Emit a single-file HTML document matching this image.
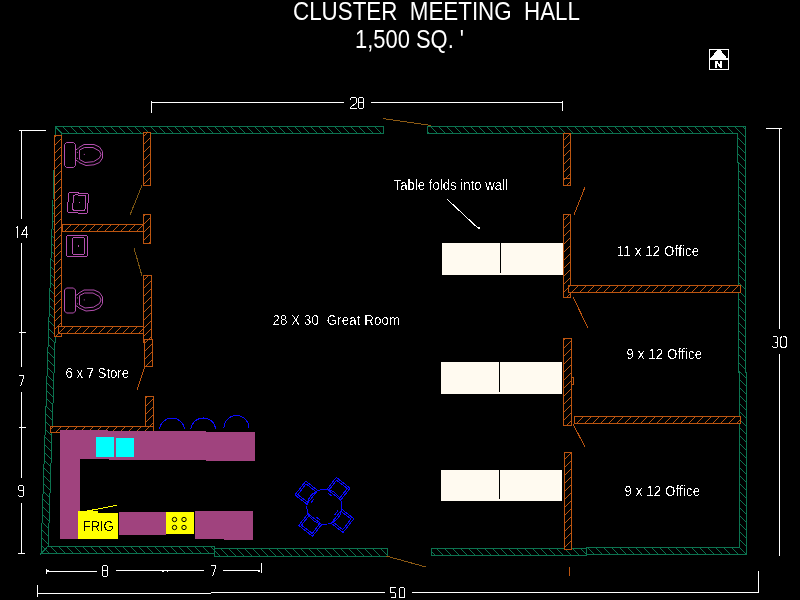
<!DOCTYPE html><html><head><meta charset="utf-8"><style>html,body{margin:0;padding:0;background:#000;width:800px;height:600px;overflow:hidden}svg{display:block;will-change:transform}</style></head><body>
<svg width="800" height="600" viewBox="0 0 800 600">
<defs><filter id="thr" x="-5%" y="-20%" width="110%" height="140%"><feComponentTransfer><feFuncA type="discrete" tableValues="0 0 0 1 1"/></feComponentTransfer></filter></defs>
<rect width="800" height="600" fill="#000"/>
<g shape-rendering="crispEdges">
<text xml:space="preserve" x="293" y="19.8" font-family="Liberation Sans" font-size="25.6" font-weight="normal" fill="#ffffff" textLength="287" lengthAdjust="spacingAndGlyphs">CLUSTER  MEETING  HALL</text>
<text xml:space="preserve" x="355" y="47.7" font-family="Liberation Sans" font-size="25.6" font-weight="normal" fill="#ffffff" textLength="109" lengthAdjust="spacingAndGlyphs">1,500 SQ. '</text>
<rect x="709.5" y="49.5" width="19" height="20" fill="none" stroke="#fff" stroke-width="1.2"/>
<polygon points="710,59.5 717,50 720.5,50 728,59.5" fill="#fff"/>
<rect x="709.5" y="58" width="19" height="1.8" fill="#fff"/>
<path d="M715 61H717.2L720 65V61H722.2V68H720L717.2 64V68H715Z" fill="#fff"/>
<polygon points="55.50,126.50 383.50,126.50 383.50,133.50 62.00,133.50" fill="none" stroke="#0c7350" stroke-width="1"/>
<path d="M62.50 126.50L69.50 133.50M70.50 126.50L77.50 133.50M78.50 126.50L85.50 133.50M86.50 126.50L93.50 133.50M94.50 126.50L101.50 133.50M102.50 126.50L109.50 133.50M110.50 126.50L117.50 133.50M118.50 126.50L125.50 133.50M126.50 126.50L133.50 133.50M134.50 126.50L141.50 133.50M142.50 126.50L149.50 133.50M150.50 126.50L157.50 133.50M158.50 126.50L165.50 133.50M166.50 126.50L173.50 133.50M174.50 126.50L181.50 133.50M182.50 126.50L189.50 133.50M190.50 126.50L197.50 133.50M198.50 126.50L205.50 133.50M206.50 126.50L213.50 133.50M214.50 126.50L221.50 133.50M222.50 126.50L229.50 133.50M230.50 126.50L237.50 133.50M238.50 126.50L245.50 133.50M246.50 126.50L253.50 133.50M254.50 126.50L261.50 133.50M262.50 126.50L269.50 133.50M270.50 126.50L277.50 133.50M278.50 126.50L285.50 133.50M286.50 126.50L293.50 133.50M294.50 126.50L301.50 133.50M302.50 126.50L309.50 133.50M310.50 126.50L317.50 133.50M318.50 126.50L325.50 133.50M326.50 126.50L333.50 133.50M334.50 126.50L341.50 133.50M342.50 126.50L349.50 133.50M350.50 126.50L357.50 133.50M358.50 126.50L365.50 133.50M366.50 126.50L373.50 133.50M374.50 126.50L381.50 133.50M382.50 126.50L383.50 127.50" stroke="#0c7350" stroke-width="1" fill="none"/>
<path d="M427.50 131.50L429.50 133.50M430.50 126.50L437.50 133.50M438.50 126.50L445.50 133.50M446.50 126.50L453.50 133.50M454.50 126.50L461.50 133.50M462.50 126.50L469.50 133.50M470.50 126.50L477.50 133.50M478.50 126.50L485.50 133.50M486.50 126.50L493.50 133.50M494.50 126.50L501.50 133.50M502.50 126.50L509.50 133.50M510.50 126.50L517.50 133.50M518.50 126.50L525.50 133.50M526.50 126.50L533.50 133.50M534.50 126.50L541.50 133.50M542.50 126.50L549.50 133.50M550.50 126.50L557.50 133.50M558.50 126.50L565.50 133.50M566.50 126.50L573.50 133.50M574.50 126.50L581.50 133.50M582.50 126.50L589.50 133.50M590.50 126.50L597.50 133.50M598.50 126.50L605.50 133.50M606.50 126.50L613.50 133.50M614.50 126.50L621.50 133.50M622.50 126.50L629.50 133.50M630.50 126.50L637.50 133.50M638.50 126.50L645.50 133.50M646.50 126.50L653.50 133.50M654.50 126.50L661.50 133.50M662.50 126.50L669.50 133.50M670.50 126.50L677.50 133.50M678.50 126.50L685.50 133.50M686.50 126.50L693.50 133.50M694.50 126.50L701.50 133.50M702.50 126.50L709.50 133.50M710.50 126.50L717.50 133.50M718.50 126.50L725.50 133.50M726.50 126.50L733.50 133.50M734.50 126.50L741.50 133.50M742.50 126.50L745.50 129.50" stroke="#0c7350" stroke-width="1" fill="none"/>
<path d="M737.50 161.50L738.50 162.50M737.50 153.50L745.50 161.50M737.50 145.50L745.50 153.50M737.50 137.50L745.50 145.50M741.50 133.50L745.50 137.50" stroke="#0c7350" stroke-width="1" fill="none"/>
<path d="M738.50 370.50L740.00 372.00M738.50 362.50L745.50 369.50M738.50 354.50L745.50 361.50M738.50 346.50L745.50 353.50M738.50 338.50L745.50 345.50M738.50 330.50L745.50 337.50M738.50 322.50L745.50 329.50M738.50 314.50L745.50 321.50M738.50 306.50L745.50 313.50M738.50 298.50L745.50 305.50M738.50 290.50L745.50 297.50M738.50 282.50L745.50 289.50M738.50 274.50L745.50 281.50M738.50 266.50L745.50 273.50M738.50 258.50L745.50 265.50M738.50 250.50L745.50 257.50M738.50 242.50L745.50 249.50M738.50 234.50L745.50 241.50M738.50 226.50L745.50 233.50M738.50 218.50L745.50 225.50M738.50 210.50L745.50 217.50M738.50 202.50L745.50 209.50M738.50 194.50L745.50 201.50M738.50 186.50L745.50 193.50M738.50 178.50L745.50 185.50M738.50 170.50L745.50 177.50M738.50 162.50L745.50 169.50" stroke="#0c7350" stroke-width="1" fill="none"/>
<path d="M739.00 539.00L746.50 546.50M739.00 531.00L746.50 538.50M739.00 523.00L746.50 530.50M739.00 515.00L746.50 522.50M739.00 507.00L746.50 514.50M739.00 499.00L746.50 506.50M739.00 491.00L746.50 498.50M739.00 483.00L746.50 490.50M739.00 475.00L746.50 482.50M739.00 467.00L746.50 474.50M739.00 459.00L746.50 466.50M739.00 451.00L746.50 458.50M739.00 443.00L746.50 450.50M739.00 435.00L746.50 442.50M739.00 427.00L746.50 434.50M739.00 419.00L746.50 426.50M739.00 411.00L746.50 418.50M739.00 403.00L746.50 410.50M739.00 395.00L746.50 402.50M739.00 387.00L746.50 394.50M739.00 379.00L746.50 386.50M740.00 372.00L746.50 378.50" stroke="#0c7350" stroke-width="1" fill="none"/>
<path d="M587.50 547.50L594.00 554.00M595.50 547.50L602.00 554.00M603.50 547.50L610.00 554.00M611.50 547.50L618.00 554.00M619.50 547.50L626.00 554.00M627.50 547.50L634.00 554.00M635.50 547.50L642.00 554.00M643.50 547.50L650.00 554.00M651.50 547.50L658.00 554.00M659.50 547.50L666.00 554.00M667.50 547.50L674.00 554.00M675.50 547.50L682.00 554.00M683.50 547.50L690.00 554.00M691.50 547.50L698.00 554.00M699.50 547.50L706.00 554.00M707.50 547.50L714.00 554.00M715.50 547.50L722.00 554.00M723.50 547.50L730.00 554.00M731.50 547.50L738.00 554.00M739.50 547.50L746.00 554.00" stroke="#0c7350" stroke-width="1" fill="none"/>
<path d="M427.5 133.5V126.5H745.5V372.5H746.5V554H586.5V547.5H739V372.5H738.5V162.5H737.5V133.5H427.5Z" fill="none" stroke="#0c7350" stroke-width="1"/>
<polygon points="55.50,126.50 62.00,133.50 48.25,546.00 41.00,553.50" fill="none" stroke="#0c7350" stroke-width="1"/>
<path d="M41.28 545.28L45.18 549.18M41.54 537.54L48.31 544.31M41.80 529.80L48.57 536.57M42.07 522.07L48.83 528.83M42.33 514.33L49.08 521.08M42.59 506.59L49.34 513.34M42.86 498.86L49.60 505.60M43.12 491.12L49.86 497.86M43.38 483.38L50.12 490.12M43.64 475.64L50.37 482.37M43.91 467.91L50.63 474.63M44.17 460.17L50.89 466.89M44.43 452.43L51.15 459.15M44.69 444.69L51.41 451.41M44.96 436.96L51.66 443.66M45.22 429.22L51.92 435.92M45.48 421.48L52.18 428.18M45.75 413.75L52.44 420.44M46.01 406.01L52.70 412.70M46.27 398.27L52.95 404.95M46.53 390.53L53.21 397.21M46.80 382.80L53.47 389.47M47.06 375.06L53.73 381.73M47.32 367.32L53.99 373.99M47.58 359.58L54.24 366.24M47.85 351.85L54.50 358.50M48.11 344.11L54.76 350.76M48.37 336.37L55.02 343.02M48.64 328.64L55.28 335.28M48.90 320.90L55.53 327.53M49.16 313.16L55.79 319.79M49.42 305.42L56.05 312.05M49.69 297.69L56.31 304.31M49.95 289.95L56.57 296.57M50.21 282.21L56.82 288.82M50.48 274.48L57.08 281.08M50.74 266.74L57.34 273.34M51.00 259.00L57.60 265.60M51.26 251.26L57.86 257.86M51.53 243.53L58.11 250.11M51.79 235.79L58.37 242.37M52.05 228.05L58.63 234.63M52.31 220.31L58.89 226.89M52.58 212.58L59.15 219.15M52.84 204.84L59.40 211.40M53.10 197.10L59.66 203.66M53.37 189.37L59.92 195.92M53.63 181.63L60.18 188.18M53.89 173.89L60.44 180.44M54.15 166.15L60.69 172.69M54.42 158.42L60.95 164.95M54.68 150.68L61.21 157.21M54.94 142.94L61.47 149.47M55.20 135.20L61.73 141.73M55.47 127.47L61.98 133.98" stroke="#0c7350" stroke-width="1" fill="none"/>
<polygon points="41.00,553.50 48.25,546.00 214.50,546.00 214.50,553.50" fill="none" stroke="#0c7350" stroke-width="1"/>
<path d="M45.18 549.18L49.50 553.50M50.00 546.00L57.50 553.50M58.00 546.00L65.50 553.50M66.00 546.00L73.50 553.50M74.00 546.00L81.50 553.50M82.00 546.00L89.50 553.50M90.00 546.00L97.50 553.50M98.00 546.00L105.50 553.50M106.00 546.00L113.50 553.50M114.00 546.00L121.50 553.50M122.00 546.00L129.50 553.50M130.00 546.00L137.50 553.50M138.00 546.00L145.50 553.50M146.00 546.00L153.50 553.50M154.00 546.00L161.50 553.50M162.00 546.00L169.50 553.50M170.00 546.00L177.50 553.50M178.00 546.00L185.50 553.50M186.00 546.00L193.50 553.50M194.00 546.00L201.50 553.50M202.00 546.00L209.50 553.50M210.00 546.00L214.50 550.50" stroke="#0c7350" stroke-width="1" fill="none"/>
<polygon points="214.50,548.50 387.50,548.50 387.50,556.50 214.50,556.50" fill="none" stroke="#0c7350" stroke-width="1"/>
<path d="M214.50 550.50L220.50 556.50M220.50 548.50L228.50 556.50M228.50 548.50L236.50 556.50M236.50 548.50L244.50 556.50M244.50 548.50L252.50 556.50M252.50 548.50L260.50 556.50M260.50 548.50L268.50 556.50M268.50 548.50L276.50 556.50M276.50 548.50L284.50 556.50M284.50 548.50L292.50 556.50M292.50 548.50L300.50 556.50M300.50 548.50L308.50 556.50M308.50 548.50L316.50 556.50M316.50 548.50L324.50 556.50M324.50 548.50L332.50 556.50M332.50 548.50L340.50 556.50M340.50 548.50L348.50 556.50M348.50 548.50L356.50 556.50M356.50 548.50L364.50 556.50M364.50 548.50L372.50 556.50M372.50 548.50L380.50 556.50M380.50 548.50L387.50 555.50" stroke="#0c7350" stroke-width="1" fill="none"/>
<polygon points="431.50,548.50 586.50,548.50 586.50,555.50 431.50,555.50" fill="none" stroke="#0c7350" stroke-width="1"/>
<path d="M431.50 551.50L435.50 555.50M436.50 548.50L443.50 555.50M444.50 548.50L451.50 555.50M452.50 548.50L459.50 555.50M460.50 548.50L467.50 555.50M468.50 548.50L475.50 555.50M476.50 548.50L483.50 555.50M484.50 548.50L491.50 555.50M492.50 548.50L499.50 555.50M500.50 548.50L507.50 555.50M508.50 548.50L515.50 555.50M516.50 548.50L523.50 555.50M524.50 548.50L531.50 555.50M532.50 548.50L539.50 555.50M540.50 548.50L547.50 555.50M548.50 548.50L555.50 555.50M556.50 548.50L563.50 555.50M564.50 548.50L571.50 555.50M572.50 548.50L579.50 555.50M580.50 548.50L586.50 554.50" stroke="#0c7350" stroke-width="1" fill="none"/>
<polygon points="54.50,135.50 61.50,135.50 61.50,336.00 54.50,336.00" fill="#000" stroke="#bc5510" stroke-width="1"/>
<path d="M56.50 135.50L54.50 137.50M61.50 138.50L54.50 145.50M61.50 146.50L54.50 153.50M61.50 154.50L54.50 161.50M61.50 162.50L54.50 169.50M61.50 170.50L54.50 177.50M61.50 178.50L54.50 185.50M61.50 186.50L54.50 193.50M61.50 194.50L54.50 201.50M61.50 202.50L54.50 209.50M61.50 210.50L54.50 217.50M61.50 218.50L54.50 225.50M61.50 226.50L54.50 233.50M61.50 234.50L54.50 241.50M61.50 242.50L54.50 249.50M61.50 250.50L54.50 257.50M61.50 258.50L54.50 265.50M61.50 266.50L54.50 273.50M61.50 274.50L54.50 281.50M61.50 282.50L54.50 289.50M61.50 290.50L54.50 297.50M61.50 298.50L54.50 305.50M61.50 306.50L54.50 313.50M61.50 314.50L54.50 321.50M61.50 322.50L54.50 329.50M61.50 330.50L56.00 336.00" stroke="#bc5510" stroke-width="1" fill="none"/>
<polygon points="143.50,132.50 150.50,132.50 150.50,185.50 143.50,185.50" fill="#000" stroke="#bc5510" stroke-width="1"/>
<path d="M147.50 132.50L143.50 136.50M150.50 137.50L143.50 144.50M150.50 145.50L143.50 152.50M150.50 153.50L143.50 160.50M150.50 161.50L143.50 168.50M150.50 169.50L143.50 176.50M150.50 177.50L143.50 184.50" stroke="#bc5510" stroke-width="1" fill="none"/>
<polygon points="143.50,214.50 150.50,214.50 150.50,243.50 143.50,243.50" fill="#000" stroke="#bc5510" stroke-width="1"/>
<path d="M145.50 214.50L143.50 216.50M150.50 217.50L143.50 224.50M150.50 225.50L143.50 232.50M150.50 233.50L143.50 240.50M150.50 241.50L148.50 243.50" stroke="#bc5510" stroke-width="1" fill="none"/>
<polygon points="62.00,224.50 143.50,224.50 143.50,231.50 62.00,231.50" fill="#000" stroke="#bc5510" stroke-width="1"/>
<path d="M63.50 224.50L62.00 226.00M71.50 224.50L64.50 231.50M79.50 224.50L72.50 231.50M87.50 224.50L80.50 231.50M95.50 224.50L88.50 231.50M103.50 224.50L96.50 231.50M111.50 224.50L104.50 231.50M119.50 224.50L112.50 231.50M127.50 224.50L120.50 231.50M135.50 224.50L128.50 231.50M143.50 224.50L136.50 231.50" stroke="#bc5510" stroke-width="1" fill="none"/>
<polygon points="143.50,275.50 151.00,275.50 151.00,342.00 143.50,342.00" fill="#000" stroke="#bc5510" stroke-width="1"/>
<path d="M148.50 275.50L143.50 280.50M151.00 281.00L143.50 288.50M151.00 289.00L143.50 296.50M151.00 297.00L143.50 304.50M151.00 305.00L143.50 312.50M151.00 313.00L143.50 320.50M151.00 321.00L143.50 328.50M151.00 329.00L143.50 336.50M151.00 337.00L146.00 342.00" stroke="#bc5510" stroke-width="1" fill="none"/>
<polygon points="58.00,326.50 143.50,326.50 143.50,333.50 58.00,333.50" fill="#000" stroke="#bc5510" stroke-width="1"/>
<path d="M65.50 326.50L58.50 333.50M73.50 326.50L66.50 333.50M81.50 326.50L74.50 333.50M89.50 326.50L82.50 333.50M97.50 326.50L90.50 333.50M105.50 326.50L98.50 333.50M113.50 326.50L106.50 333.50M121.50 326.50L114.50 333.50M129.50 326.50L122.50 333.50M137.50 326.50L130.50 333.50M143.50 328.50L138.50 333.50" stroke="#bc5510" stroke-width="1" fill="none"/>
<polygon points="144.50,339.50 152.50,339.50 152.50,366.50 144.50,366.50" fill="#000" stroke="#bc5510" stroke-width="1"/>
<path d="M148.50 339.50L144.50 343.50M152.50 343.50L144.50 351.50M152.50 351.50L144.50 359.50M152.50 359.50L145.50 366.50" stroke="#bc5510" stroke-width="1" fill="none"/>
<polygon points="145.50,396.50 153.50,396.50 153.50,430.00 145.50,430.00" fill="#000" stroke="#bc5510" stroke-width="1"/>
<path d="M147.50 396.50L145.50 398.50M153.50 398.50L145.50 406.50M153.50 406.50L145.50 414.50M153.50 414.50L145.50 422.50M153.50 422.50L146.00 430.00" stroke="#bc5510" stroke-width="1" fill="none"/>
<polygon points="50.50,426.50 153.50,426.50 153.50,432.00 50.50,432.00" fill="#000" stroke="#bc5510" stroke-width="1"/>
<path d="M53.50 426.50L50.50 429.50M61.50 426.50L56.00 432.00M69.50 426.50L64.00 432.00M77.50 426.50L72.00 432.00M85.50 426.50L80.00 432.00M93.50 426.50L88.00 432.00M101.50 426.50L96.00 432.00M109.50 426.50L104.00 432.00M117.50 426.50L112.00 432.00M125.50 426.50L120.00 432.00M133.50 426.50L128.00 432.00M141.50 426.50L136.00 432.00M149.50 426.50L144.00 432.00M153.50 430.50L152.00 432.00" stroke="#bc5510" stroke-width="1" fill="none"/>
<polygon points="563.50,133.50 570.50,133.50 570.50,178.50 563.50,178.50" fill="#000" stroke="#bc5510" stroke-width="1"/>
<path d="M570.50 133.50L563.50 140.50M570.50 141.50L563.50 148.50M570.50 149.50L563.50 156.50M570.50 157.50L563.50 164.50M570.50 165.50L563.50 172.50M570.50 173.50L565.50 178.50" stroke="#bc5510" stroke-width="1" fill="none"/>
<polygon points="563.50,178.50 570.50,178.50 570.50,185.50 563.50,185.50" fill="#000" stroke="#bc5510" stroke-width="1"/>
<path d="M565.50 178.50L563.50 180.50M570.50 181.50L566.50 185.50" stroke="#bc5510" stroke-width="1" fill="none"/>
<polygon points="563.50,214.50 570.50,214.50 570.50,297.50 563.50,297.50" fill="#000" stroke="#bc5510" stroke-width="1"/>
<path d="M569.50 214.50L563.50 220.50M570.50 221.50L563.50 228.50M570.50 229.50L563.50 236.50M570.50 237.50L563.50 244.50M570.50 245.50L563.50 252.50M570.50 253.50L563.50 260.50M570.50 261.50L563.50 268.50M570.50 269.50L563.50 276.50M570.50 277.50L563.50 284.50M570.50 285.50L563.50 292.50M570.50 293.50L566.50 297.50" stroke="#bc5510" stroke-width="1" fill="none"/>
<polygon points="568.50,285.50 740.00,285.50 740.00,292.50 568.50,292.50" fill="#000" stroke="#bc5510" stroke-width="1"/>
<path d="M570.50 285.50L568.50 287.50M578.50 285.50L571.50 292.50M586.50 285.50L579.50 292.50M594.50 285.50L587.50 292.50M602.50 285.50L595.50 292.50M610.50 285.50L603.50 292.50M618.50 285.50L611.50 292.50M626.50 285.50L619.50 292.50M634.50 285.50L627.50 292.50M642.50 285.50L635.50 292.50M650.50 285.50L643.50 292.50M658.50 285.50L651.50 292.50M666.50 285.50L659.50 292.50M674.50 285.50L667.50 292.50M682.50 285.50L675.50 292.50M690.50 285.50L683.50 292.50M698.50 285.50L691.50 292.50M706.50 285.50L699.50 292.50M714.50 285.50L707.50 292.50M722.50 285.50L715.50 292.50M730.50 285.50L723.50 292.50M738.50 285.50L731.50 292.50" stroke="#bc5510" stroke-width="1" fill="none"/>
<polygon points="574.50,416.50 740.00,416.50 740.00,423.50 574.50,423.50" fill="#000" stroke="#bc5510" stroke-width="1"/>
<path d="M575.50 416.50L574.50 417.50M583.50 416.50L576.50 423.50M591.50 416.50L584.50 423.50M599.50 416.50L592.50 423.50M607.50 416.50L600.50 423.50M615.50 416.50L608.50 423.50M623.50 416.50L616.50 423.50M631.50 416.50L624.50 423.50M639.50 416.50L632.50 423.50M647.50 416.50L640.50 423.50M655.50 416.50L648.50 423.50M663.50 416.50L656.50 423.50M671.50 416.50L664.50 423.50M679.50 416.50L672.50 423.50M687.50 416.50L680.50 423.50M695.50 416.50L688.50 423.50M703.50 416.50L696.50 423.50M711.50 416.50L704.50 423.50M719.50 416.50L712.50 423.50M727.50 416.50L720.50 423.50M735.50 416.50L728.50 423.50M740.00 420.00L736.50 423.50" stroke="#bc5510" stroke-width="1" fill="none"/>
<polygon points="564.50,452.50 571.50,452.50 571.50,549.50 564.50,549.50" fill="#000" stroke="#bc5510" stroke-width="1"/>
<path d="M571.50 452.50L564.50 459.50M571.50 460.50L564.50 467.50M571.50 468.50L564.50 475.50M571.50 476.50L564.50 483.50M571.50 484.50L564.50 491.50M571.50 492.50L564.50 499.50M571.50 500.50L564.50 507.50M571.50 508.50L564.50 515.50M571.50 516.50L564.50 523.50M571.50 524.50L564.50 531.50M571.50 532.50L564.50 539.50M571.50 540.50L564.50 547.50M571.50 548.50L570.50 549.50" stroke="#bc5510" stroke-width="1" fill="none"/>
<polygon points="563.50,338.50 571.00,338.50 571.00,425.50 563.50,425.50" fill="#000" stroke="#bc5510" stroke-width="1"/>
<path d="M565.50 338.50L563.50 340.50M571.00 341.00L563.50 348.50M571.00 349.00L563.50 356.50M571.00 357.00L563.50 364.50M571.00 365.00L563.50 372.50M571.00 373.00L563.50 380.50M571.00 381.00L563.50 388.50M571.00 389.00L563.50 396.50M571.00 397.00L563.50 404.50M571.00 405.00L563.50 412.50M571.00 413.00L563.50 420.50M571.00 421.00L566.50 425.50" stroke="#bc5510" stroke-width="1" fill="none"/>
<polyline points="571,358.5 571.5,358.5 571.5,377.5 573.5,377.5 573.5,384.5 571.5,384.5 571.5,425.5" fill="none" stroke="#bc5510"/>
<line x1="383" y1="118.5" x2="431" y2="125.5" stroke="#8c5a14" stroke-width="1"/>
<line x1="386" y1="556" x2="426" y2="567" stroke="#8c5a14" stroke-width="1"/>
<line x1="142" y1="185.5" x2="130" y2="215" stroke="#7a5512" stroke-width="1"/>
<line x1="134" y1="248" x2="142" y2="276" stroke="#7a5512" stroke-width="1"/>
<line x1="145" y1="366" x2="137" y2="390" stroke="#bc5510" stroke-width="1"/>
<line x1="585" y1="187" x2="574" y2="215" stroke="#bc5510" stroke-width="1"/>
<line x1="573" y1="297" x2="588" y2="328" stroke="#bc5510" stroke-width="1"/>
<line x1="573" y1="424" x2="585" y2="447" stroke="#bc5510" stroke-width="1"/>
<line x1="569.5" y1="567" x2="569.5" y2="576" stroke="#bc5510" stroke-width="1"/>
<g transform="translate(0,0)" fill="none" stroke="#b44fae" stroke-width="1" shape-rendering="auto"><path d="M66.5 142.5H73.5L75.5 144.5V165.5L73.5 167.5H66.5L64.5 165.5V144.5Z"/><path d="M75.5 149.5H77L79 147.5L84 144.5H94L99.5 147L102.5 151.5V158L99.5 162.5L94 164.8L86 165.5L79 162.5L77 160.5H75.5"/><path d="M79.5 159.5V150L84.5 147.5H93L99.5 151L101 154.5L99.5 158L93.5 161.7L85 162.5Z"/><rect x="76.9" y="151.9" width="1" height="1" fill="#b44fae" stroke="none"/><rect x="76.9" y="157.9" width="1" height="1" fill="#b44fae" stroke="none"/><rect x="83.8" y="153.9" width="1" height="1" fill="#b44fae" stroke="none"/></g>
<g transform="translate(0,145.5)" fill="none" stroke="#b44fae" stroke-width="1" shape-rendering="auto"><path d="M66.5 142.5H73.5L75.5 144.5V165.5L73.5 167.5H66.5L64.5 165.5V144.5Z"/><path d="M75.5 149.5H77L79 147.5L84 144.5H94L99.5 147L102.5 151.5V158L99.5 162.5L94 164.8L86 165.5L79 162.5L77 160.5H75.5"/><path d="M79.5 159.5V150L84.5 147.5H93L99.5 151L101 154.5L99.5 158L93.5 161.7L85 162.5Z"/><rect x="76.9" y="151.9" width="1" height="1" fill="#b44fae" stroke="none"/><rect x="76.9" y="157.9" width="1" height="1" fill="#b44fae" stroke="none"/><rect x="83.8" y="153.9" width="1" height="1" fill="#b44fae" stroke="none"/></g>
<g transform="rotate(4 78 203)">
<rect x="68" y="193" width="20" height="20" rx="2" fill="none" stroke="#b44fae" stroke-width="1"/>
<rect x="73" y="195" width="12.5" height="15.5" rx="2" fill="none" stroke="#b44fae" stroke-width="1"/>
<circle cx="79.25" cy="202.75" r="0.6" fill="#b44fae"/>
</g>
<rect x="66.5" y="235.5" width="21.0" height="21.0" rx="2" fill="none" stroke="#b44fae" stroke-width="1"/>
<rect x="72.5" y="237.5" width="12.0" height="17.0" rx="2" fill="none" stroke="#b44fae" stroke-width="1"/>
<circle cx="78.5" cy="246.0" r="0.6" fill="#b44fae"/>
<rect x="442" y="243" width="121" height="31.5" fill="#fffaf0"/>
<line x1="500.5" y1="243" x2="500.5" y2="272.5" stroke="#000" stroke-width="1"/>
<rect x="441" y="362" width="121" height="32" fill="#fffaf0"/>
<line x1="499.5" y1="362" x2="499.5" y2="392" stroke="#000" stroke-width="1"/>
<rect x="441" y="470" width="121" height="31" fill="#fffaf0"/>
<line x1="499.5" y1="470" x2="499.5" y2="499" stroke="#000" stroke-width="1"/>
<text filter="url(#thr)" xml:space="preserve" transform="scale(0.88,1)" x="447.27" y="189.6" font-family="Liberation Sans" font-size="15" fill="#ffffff" textLength="130.00" lengthAdjust="spacing">Table folds into wall</text>
<line x1="447.5" y1="199.5" x2="479.5" y2="229.5" stroke="#ffffff" stroke-width="1"/>
<rect x="477.5" y="227" width="2" height="2" fill="#fff"/>
<text filter="url(#thr)" xml:space="preserve" transform="scale(0.88,1)" x="700.91" y="255.7" font-family="Liberation Sans" font-size="15" fill="#ffffff" textLength="93.64" lengthAdjust="spacing">11 x 12 Office</text>
<text filter="url(#thr)" xml:space="preserve" transform="scale(0.88,1)" x="309.55" y="325" font-family="Liberation Sans" font-size="15" fill="#ffffff" textLength="145.00" lengthAdjust="spacing">28 X 30  Great Room</text>
<text filter="url(#thr)" xml:space="preserve" transform="scale(0.88,1)" x="74.55" y="378" font-family="Liberation Sans" font-size="15" fill="#ffffff" textLength="72.05" lengthAdjust="spacing">6 x 7 Store</text>
<text filter="url(#thr)" xml:space="preserve" transform="scale(0.88,1)" x="711.82" y="358.8" font-family="Liberation Sans" font-size="15" fill="#ffffff" textLength="85.91" lengthAdjust="spacing">9 x 12 Office</text>
<text filter="url(#thr)" xml:space="preserve" transform="scale(0.88,1)" x="709.66" y="496" font-family="Liberation Sans" font-size="15" fill="#ffffff" textLength="85.80" lengthAdjust="spacing">9 x 12 Office</text>
<path d="M60 430.2H108V431H206V432H255V461H206V459.8H109V459H79.8V539.3H60Z" fill="#a0437e"/>
<rect x="118.8" y="512" width="46.7" height="22.6" fill="#a0437e"/>
<path d="M195 511H253V539.8H224V538.5H195Z" fill="#a0437e"/>
<rect x="96" y="437" width="17.8" height="19.7" fill="#00ffff"/>
<rect x="116" y="437.5" width="17.9" height="19.5" fill="#00ffff"/>
<path d="M78.3 511.3H98V513H117.9V539.4H78.3Z" fill="#ffff00"/>
<line x1="86.9" y1="511.1" x2="116.9" y2="505.3" stroke="#ffff00" stroke-width="1"/>
<text filter="url(#thr)" xml:space="preserve" transform="scale(0.88,1)" x="93.75" y="531" font-family="Liberation Sans" font-size="15" fill="#000" textLength="35.57" lengthAdjust="spacing">FRIG</text>
<rect x="166" y="511.8" width="28.4" height="22" fill="#ffff00"/>
<circle cx="174.5" cy="519.5" r="2.2" fill="none" stroke="#000" stroke-width="1" shape-rendering="auto"/>
<circle cx="184" cy="519.5" r="2.2" fill="none" stroke="#000" stroke-width="1" shape-rendering="auto"/>
<circle cx="174.5" cy="527.5" r="2.2" fill="none" stroke="#000" stroke-width="1" shape-rendering="auto"/>
<circle cx="184" cy="527.5" r="2.2" fill="none" stroke="#000" stroke-width="1" shape-rendering="auto"/>
<path d="M159.5 429A12.6 12.6 0 0 1 184.5 429" fill="none" stroke="#0a0aff" stroke-width="1"/>
<path d="M190.8 429A12.6 12.6 0 0 1 215.8 429" fill="none" stroke="#0a0aff" stroke-width="1"/>
<path d="M223.9 428A12.4 12.4 0 0 1 248.9 428" fill="none" stroke="#0a0aff" stroke-width="1"/>
<g transform="translate(324.4,506.8) rotate(-52)"><rect x="15.5" y="-8.75" width="15" height="17.5" fill="none" stroke="#0a0aff" stroke-width="1"/><polyline points="15.5,-6.75 28.5,-6.75 28.5,6.75 15.5,6.75" fill="none" stroke="#0a0aff" stroke-width="1"/><line x1="13" y1="-5.2" x2="13" y2="0" stroke="#0a0aff" stroke-width="1"/></g>
<g transform="translate(324.4,506.8) rotate(38)"><rect x="15.5" y="-8.75" width="15" height="17.5" fill="none" stroke="#0a0aff" stroke-width="1"/><polyline points="15.5,-6.75 28.5,-6.75 28.5,6.75 15.5,6.75" fill="none" stroke="#0a0aff" stroke-width="1"/><line x1="13" y1="-5.2" x2="13" y2="0" stroke="#0a0aff" stroke-width="1"/></g>
<g transform="translate(324.4,506.8) rotate(128)"><rect x="15.5" y="-8.75" width="15" height="17.5" fill="none" stroke="#0a0aff" stroke-width="1"/><polyline points="15.5,-6.75 28.5,-6.75 28.5,6.75 15.5,6.75" fill="none" stroke="#0a0aff" stroke-width="1"/><line x1="13" y1="-5.2" x2="13" y2="0" stroke="#0a0aff" stroke-width="1"/></g>
<g transform="translate(324.4,506.8) rotate(218)"><rect x="15.5" y="-8.75" width="15" height="17.5" fill="none" stroke="#0a0aff" stroke-width="1"/><polyline points="15.5,-6.75 28.5,-6.75 28.5,6.75 15.5,6.75" fill="none" stroke="#0a0aff" stroke-width="1"/><line x1="13" y1="-5.2" x2="13" y2="0" stroke="#0a0aff" stroke-width="1"/></g>
<circle cx="324.4" cy="506.8" r="17.5" fill="none" stroke="#0a0aff" stroke-width="1"/>
<line x1="152" y1="102.5" x2="344" y2="102.5" stroke="#ffffff" stroke-width="1"/>
<line x1="371" y1="102.5" x2="563" y2="102.5" stroke="#ffffff" stroke-width="1"/>
<line x1="151.5" y1="101" x2="151.5" y2="113" stroke="#ffffff" stroke-width="1"/>
<line x1="562.5" y1="101" x2="562.5" y2="111" stroke="#ffffff" stroke-width="1"/>
<path d="M350.5 99.5L350.5 98.5L351.5 97.5L355.5 97.5L356.5 98.5L356.5 102.5L350.5 107.5L350.5 108.5L356.5 108.5M359.5 97.5L362.5 97.5L363.5 98.5L363.5 102.5L362.5 102.5L359.5 102.5L358.5 102.5L358.5 98.5L359.5 97.5M359.5 102.5L358.5 103.5L358.5 107.5L359.5 108.5L362.5 108.5L363.5 107.5L363.5 103.5L362.5 102.5" stroke="#ffffff" stroke-width="1" fill="none"/>
<line x1="21.5" y1="130.5" x2="21.5" y2="219" stroke="#ffffff" stroke-width="1"/>
<line x1="21.5" y1="243" x2="21.5" y2="367" stroke="#ffffff" stroke-width="1"/>
<line x1="21.5" y1="392" x2="21.5" y2="478" stroke="#ffffff" stroke-width="1"/>
<line x1="21.5" y1="503" x2="21.5" y2="554" stroke="#ffffff" stroke-width="1"/>
<line x1="19" y1="130.5" x2="46" y2="130.5" stroke="#ffffff" stroke-width="1"/>
<line x1="19" y1="332.5" x2="26" y2="332.5" stroke="#ffffff" stroke-width="1"/>
<line x1="19" y1="427.5" x2="26" y2="427.5" stroke="#ffffff" stroke-width="1"/>
<line x1="18" y1="553.5" x2="25" y2="553.5" stroke="#ffffff" stroke-width="1"/>
<path d="M15.5 228.5L17.5 226.5L17.5 237.5M26.5 237.5L26.5 226.5L21.5 234.5L27.5 234.5" stroke="#ffffff" stroke-width="1" fill="none"/>
<path d="M18.5 375.5L23.5 375.5L23.5 377.5L20.5 386.5" stroke="#ffffff" stroke-width="1" fill="none"/>
<path d="M23.5 490.5L19.5 490.5L18.5 489.5L18.5 486.5L19.5 485.5L22.5 485.5L23.5 486.5L23.5 495.5L22.5 496.5L19.5 496.5L18.5 495.5" stroke="#ffffff" stroke-width="1" fill="none"/>
<line x1="779.5" y1="128.5" x2="779.5" y2="329" stroke="#ffffff" stroke-width="1"/>
<line x1="779.5" y1="354" x2="779.5" y2="556" stroke="#ffffff" stroke-width="1"/>
<line x1="766" y1="128.5" x2="782" y2="128.5" stroke="#ffffff" stroke-width="1"/>
<path d="M772.5 337.5L773.5 336.5L776.5 336.5L777.5 337.5L777.5 341.5L776.5 342.5L774.5 342.5M776.5 342.5L777.5 342.5L777.5 346.5L776.5 347.5L773.5 347.5L772.5 346.5M782.5 336.5L784.5 336.5L786.5 337.5L786.5 346.5L784.5 347.5L782.5 347.5L780.5 346.5L780.5 337.5L782.5 336.5" stroke="#ffffff" stroke-width="1" fill="none"/>
<line x1="46" y1="571.5" x2="97" y2="571.5" stroke="#ffffff" stroke-width="1"/>
<line x1="116" y1="570.5" x2="204" y2="570.5" stroke="#ffffff" stroke-width="1"/>
<line x1="223" y1="570.5" x2="260" y2="570.5" stroke="#ffffff" stroke-width="1"/>
<line x1="46.5" y1="569" x2="46.5" y2="574" stroke="#ffffff" stroke-width="1"/>
<line x1="261.5" y1="563" x2="261.5" y2="573" stroke="#ffffff" stroke-width="1"/>
<rect x="47" y="570" width="2" height="1" fill="#fff"/><rect x="258" y="569.5" width="2" height="2" fill="#fff"/><rect x="162" y="571" width="2" height="1" fill="#fff"/><rect x="167" y="571" width="1" height="1" fill="#fff"/>
<path d="M103.5 565.5L106.5 565.5L107.5 566.5L107.5 570.5L106.5 570.5L103.5 570.5L102.5 570.5L102.5 566.5L103.5 565.5M103.5 570.5L102.5 571.5L102.5 575.5L103.5 576.5L106.5 576.5L107.5 575.5L107.5 571.5L106.5 570.5" stroke="#ffffff" stroke-width="1" fill="none"/>
<path d="M210.5 565.5L215.5 565.5L215.5 567.5L212.5 576.5" stroke="#ffffff" stroke-width="1" fill="none"/>
<line x1="37" y1="593.5" x2="211" y2="593.5" stroke="#ffffff" stroke-width="1"/>
<line x1="211" y1="592.5" x2="385" y2="592.5" stroke="#ffffff" stroke-width="1"/>
<line x1="412" y1="592.5" x2="758" y2="592.5" stroke="#ffffff" stroke-width="1"/>
<line x1="37.5" y1="585" x2="37.5" y2="597" stroke="#ffffff" stroke-width="1"/>
<line x1="758.5" y1="571" x2="758.5" y2="593" stroke="#ffffff" stroke-width="1"/>
<path d="M395.5 587.5L390.5 587.5L390.5 592.5L394.5 592.5L395.5 593.5L395.5 597.5L394.5 597.5L391.5 597.5L390.5 597.5M400.5 587.5L403.5 587.5L404.5 588.5L404.5 597.5L403.5 597.5L400.5 597.5L399.5 597.5L399.5 588.5L400.5 587.5" stroke="#ffffff" stroke-width="1" fill="none"/>
</g></svg></body></html>
